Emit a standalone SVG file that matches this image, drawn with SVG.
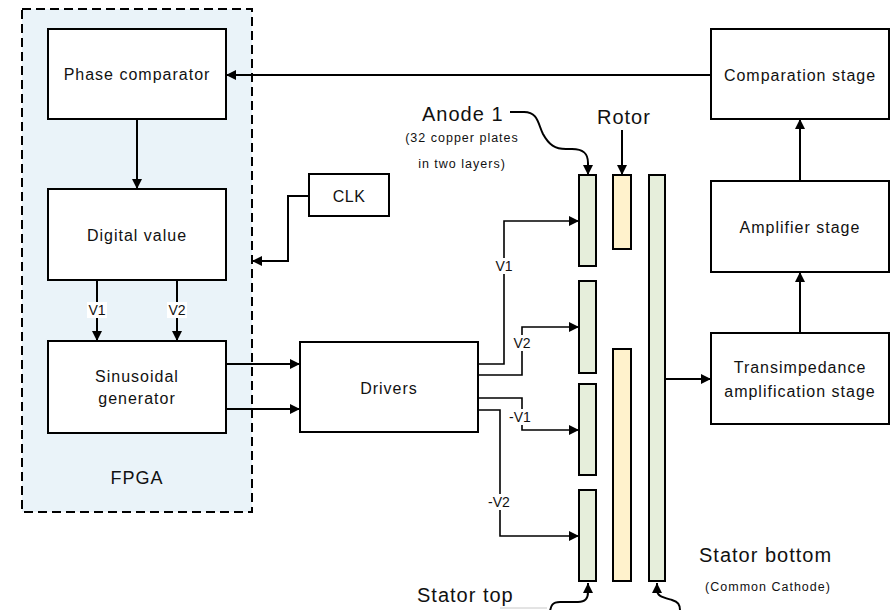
<svg xmlns="http://www.w3.org/2000/svg" width="892" height="610" viewBox="0 0 892 610">
  <defs>
    <marker id="arrow" viewBox="0 0 10 10" refX="10" refY="5" markerWidth="10" markerHeight="10" markerUnits="userSpaceOnUse" orient="auto">
      <path d="M0,0 L10,5 L0,10 z" fill="#000"/>
    </marker>
    <style>
      .box { fill: #fff; stroke: #000; stroke-width: 2; }
      .txt { font-family: "Liberation Sans", Arial, sans-serif; font-size: 16px; letter-spacing: 1px; fill: #111; text-anchor: middle; }
      .sig { font-family: "Liberation Sans", Arial, sans-serif; font-size: 14px; fill: #111; text-anchor: middle; }
      .big { font-family: "Liberation Sans", Arial, sans-serif; font-size: 20px; letter-spacing: 1px; fill: #111; }
      .note { font-family: "Liberation Sans", Arial, sans-serif; font-size: 12.5px; letter-spacing: 1px; fill: #111; text-anchor: middle; }
      .wire { fill: none; stroke: #000; stroke-width: 2; }
      .thin { fill: none; stroke: #000; stroke-width: 1.6; }
      .anode { fill: #e6eedb; stroke: #000; stroke-width: 2; }
      .rotor { fill: #fff2cc; stroke: #000; stroke-width: 2; }
      .lblbg { fill: #fff; }
    </style>
  </defs>

  <!-- FPGA enclosure -->
  <g id="fpga">
    <rect x="22" y="9" width="230" height="503" fill="#eaf3f9" stroke="#000" stroke-width="2" stroke-dasharray="9,5"/>
    <text class="txt" x="137" y="484" style="font-size:18px">FPGA</text>
  </g>

  <g id="phase-comparator">
    <rect class="box" x="48" y="29" width="178" height="90"/>
    <text class="txt" x="137" y="80">Phase comparator</text>
  </g>

  <g id="digital-value">
    <rect class="box" x="48" y="189" width="178" height="91"/>
    <text class="txt" x="137" y="241">Digital value</text>
  </g>

  <g id="sinusoidal-generator">
    <rect class="box" x="48" y="341" width="178" height="92"/>
    <text class="txt" x="137" y="382">Sinusoidal</text>
    <text class="txt" x="137" y="404">generator</text>
  </g>

  <g id="clk">
    <rect class="box" x="309" y="174" width="80" height="42"/>
    <text class="txt" x="349" y="202" style="letter-spacing:0.5px">CLK</text>
  </g>

  <g id="drivers">
    <rect class="box" x="300" y="342" width="178" height="90"/>
    <text class="txt" x="389" y="394">Drivers</text>
  </g>

  <g id="comparation-stage">
    <rect class="box" x="711" y="29" width="178" height="90"/>
    <text class="txt" x="800" y="81">Comparation stage</text>
  </g>

  <g id="amplifier-stage">
    <rect class="box" x="711" y="181" width="178" height="91"/>
    <text class="txt" x="800" y="233">Amplifier stage</text>
  </g>

  <g id="transimpedance-stage">
    <rect class="box" x="711" y="333" width="178" height="91"/>
    <text class="txt" x="800" y="373">Transimpedance</text>
    <text class="txt" x="800" y="397">amplification stage</text>
  </g>

  <!-- Electrode plates -->
  <g id="anode-plates">
    <rect class="anode" x="579" y="175" width="17" height="91"/>
    <rect class="anode" x="579" y="281" width="17" height="92"/>
    <rect class="anode" x="579" y="384" width="17" height="91"/>
    <rect class="anode" x="579" y="490" width="17" height="91"/>
  </g>
  <g id="rotor-plates">
    <rect class="rotor" x="613" y="175" width="18" height="74"/>
    <rect class="rotor" x="613" y="349" width="18" height="232"/>
  </g>
  <g id="cathode-plate">
    <rect class="anode" x="649" y="175" width="16" height="406"/>
  </g>

  <!-- Labels -->
  <g id="labels">
    <text class="big" x="422" y="121">Anode 1</text>
    <text class="note" x="462" y="142">(32 copper plates</text>
    <text class="note" x="462" y="168">in two layers)</text>
    <text class="big" x="597" y="124">Rotor</text>
    <text class="big" x="417" y="602">Stator top</text>
    <text class="big" x="699" y="562">Stator bottom</text>
    <text class="note" x="768" y="591">(Common Cathode)</text>
  </g>

  <!-- Connectors -->
  <g id="connectors">
    <!-- feedback from comparation stage to phase comparator -->
    <path class="wire" d="M711,75 L226,75" marker-end="url(#arrow)"/>
    <path class="wire" d="M137,119 L137,189" marker-end="url(#arrow)"/>
    <!-- CLK into FPGA -->
    <path class="wire" d="M309,196 L288,196 L288,261 L252,261" marker-end="url(#arrow)"/>
    <!-- V1 / V2 into sinusoidal generator -->
    <path class="wire" d="M97,280 L97,341" marker-end="url(#arrow)"/>
    <path class="wire" d="M177,280 L177,341" marker-end="url(#arrow)"/>
    <rect class="lblbg" x="87" y="302" width="20" height="16"/>
    <rect class="lblbg" x="167" y="302" width="20" height="16"/>
    <text class="sig" x="97" y="315">V1</text>
    <text class="sig" x="177" y="315">V2</text>
    <!-- generator to drivers -->
    <path class="wire" d="M226,364 L300,364" marker-end="url(#arrow)"/>
    <path class="wire" d="M226,409 L300,409" marker-end="url(#arrow)"/>
    <!-- drivers to anode plates -->
    <path class="thin" d="M478,364 L504,364 L504,221 L579,221" marker-end="url(#arrow)"/>
    <path class="thin" d="M478,375 L522,375 L522,327 L579,327" marker-end="url(#arrow)"/>
    <path class="thin" d="M478,398 L522,398 L522,430 L579,430" marker-end="url(#arrow)"/>
    <path class="thin" d="M478,410 L500,410 L500,536 L579,536" marker-end="url(#arrow)"/>
    <rect class="lblbg" x="494" y="258" width="20" height="16"/>
    <rect class="lblbg" x="512" y="335" width="20" height="16"/>
    <rect class="lblbg" x="506" y="409" width="28" height="16"/>
    <rect class="lblbg" x="485" y="494" width="28" height="16"/>
    <text class="sig" x="504" y="271">V1</text>
    <text class="sig" x="522" y="348">V2</text>
    <text class="sig" x="520" y="422">-V1</text>
    <text class="sig" x="499" y="507">-V2</text>
    <!-- cathode to transimpedance stage -->
    <path class="wire" d="M665,379 L711,379" marker-end="url(#arrow)"/>
    <!-- signal chain upwards -->
    <path class="wire" d="M800,333 L800,272" marker-end="url(#arrow)"/>
    <path class="wire" d="M800,181 L800,119" marker-end="url(#arrow)"/>
    <!-- label pointers -->
    <path class="wire" d="M510,112 L524,112 C538,112 538,124 543,134 C549,145 555,149 566,149 L572,149 C584,149 588,154 588,163 L588,175" marker-end="url(#arrow)"/>
    <path class="wire" d="M622,130 L622,175" marker-end="url(#arrow)"/>
    <path class="wire" d="M550,611 C551,606 552,602 560,602 L578,602 C586,602 588,598 588,592 L588,583" marker-end="url(#arrow)"/>
    <path d="M500,608 L547,608" stroke="#c8c8c8" stroke-width="1" fill="none"/>
    <path class="wire" d="M680,611 C680,604 678,602 672,600 C662,597 657,596 657,590 L657,583" marker-end="url(#arrow)"/>
  </g>
</svg>
